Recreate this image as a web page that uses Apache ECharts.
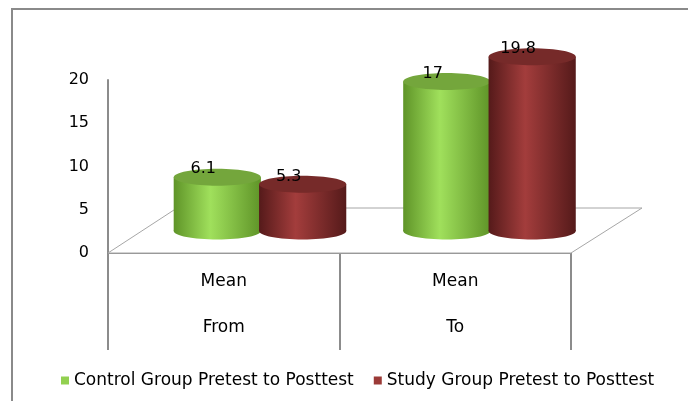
<!DOCTYPE html>
<html>
<head>
<meta charset="utf-8">
<script src="https://cdn.jsdelivr.net/npm/echarts@6/dist/echarts.min.js"></script>
<style>
  html, body { margin: 0; padding: 0; background: #fff; }
  #main { width: 688px; height: 401px; }
</style>
</head>
<body>
<div id="main"></div>
<script>
// data
const categories = ["From", "To"];
const rowLabel = "Mean";
const controlValues = [6.1, 17];
const studyValues = [5.3, 19.8];
const seriesNames = ["Control Group Pretest to Posttest", "Study Group Pretest to Posttest"];
const yMin = 0, yMax = 20, yStep = 5;

const FONT = "DejaVu Sans";

// cylinder colours
const greenPal = { edge: "#5f9428", mid: "#a0e05c", top: "#74a63c", legend: "#92d050" };
const redPal = { edge: "#551a1a", mid: "#a33d3c", top: "#762a29", legend: "#9b3a37" };

function cylinder(offset, pal) {
  return function (params, api) {
    const cat = api.value(0);
    const val = api.value(1);
    const top = api.coord([cat, val]);
    const base = api.coord([cat, 0]);
    const band = api.size([1, 0])[0];
    const cx = top[0] + offset * band;
    const rx = band * 0.19;
    const ry = 8.5;
    const bodyFill = new echarts.graphic.LinearGradient(0, 0, 1, 0, [
      { offset: 0, color: pal.edge },
      { offset: 0.42, color: pal.mid },
      { offset: 1, color: pal.edge }
    ]);
    return {
      type: "group",
      children: [
        { type: "ellipse", shape: { cx: cx, cy: base[1], rx: rx, ry: ry }, style: { fill: bodyFill } },
        { type: "rect", shape: { x: cx - rx, y: top[1], width: rx * 2, height: base[1] - top[1] }, style: { fill: bodyFill } },
        { type: "ellipse", shape: { cx: cx, cy: top[1], rx: rx, ry: ry }, style: { fill: pal.top } },
        {
          type: "text",
          x: cx - 14, y: top[1] - 8,
          style: {
            text: String(val), fill: "#000", font: "16px '" + FONT + "'",
            align: "center", verticalAlign: "middle"
          }
        }
      ]
    };
  };
}

function floor(params, api) {
  const c = params.coordSys;
  const y = c.y + c.height;
  return {
    type: "polygon",
    silent: true,
    shape: { points: [[c.x, y], [c.x + c.width, y], [c.x + c.width + 71, y - 45], [c.x + 69, y - 45]] },
    style: { fill: "#fff", stroke: "#a6a6a6", lineWidth: 1 }
  };
}

const chart = echarts.init(document.getElementById("main"));
chart.setOption({
  animation: false,
  graphic: [{
    type: "rect", silent: true, z: -1,
    shape: { x: 12, y: 9, width: 720, height: 450 },
    style: { fill: "none", stroke: "#8a8a8a", lineWidth: 2 }
  }],
  legend: {
    data: seriesNames,
    left: 56, top: 367,
    icon: "rect", itemWidth: 8, itemHeight: 8, itemGap: 20,
    textStyle: { fontFamily: FONT, fontSize: 17, color: "#000" }
  },
  grid: [
    { left: 108, right: 117, top: 80, bottom: 148 },
    { left: 145, right: 84, top: 55, bottom: 170 }
  ],
  xAxis: [
    {
      gridIndex: 0, type: "category", data: categories,
      axisLine: { lineStyle: { color: "#8c8c8c", width: 1 } },
      axisTick: { show: true, length: 97, interval: 0, lineStyle: { color: "#8c8c8c", width: 2 } },
      axisLabel: {
        interval: 0, margin: 17, lineHeight: 23,
        fontFamily: FONT, fontSize: 17, color: "#000",
        formatter: v => rowLabel + "\n\n" + v
      }
    },
    { gridIndex: 1, type: "category", data: categories, show: false }
  ],
  yAxis: [
    {
      gridIndex: 0, type: "value", min: yMin, max: yMax, interval: yStep,
      axisLine: { show: true, lineStyle: { color: "#8c8c8c", width: 2 } },
      axisTick: { show: false },
      splitLine: { show: false },
      axisLabel: { margin: 19, fontFamily: FONT, fontSize: 16, color: "#000" }
    },
    { gridIndex: 1, type: "value", min: yMin, max: yMax, show: false }
  ],
  series: [
    {
      type: "custom", name: "floor", xAxisIndex: 0, yAxisIndex: 0, z: 1,
      renderItem: floor, data: [[0, 0]], silent: true
    },
    {
      type: "custom", name: seriesNames[0], xAxisIndex: 1, yAxisIndex: 1, z: 2,
      itemStyle: { color: greenPal.legend },
      renderItem: cylinder(-0.185, greenPal),
      data: categories.map((c, i) => [i, controlValues[i]])
    },
    {
      type: "custom", name: seriesNames[1], xAxisIndex: 1, yAxisIndex: 1, z: 3,
      itemStyle: { color: redPal.legend },
      renderItem: cylinder(0.187, redPal),
      data: categories.map((c, i) => [i, studyValues[i]])
    }
  ]
});
</script>
</body>
</html>
